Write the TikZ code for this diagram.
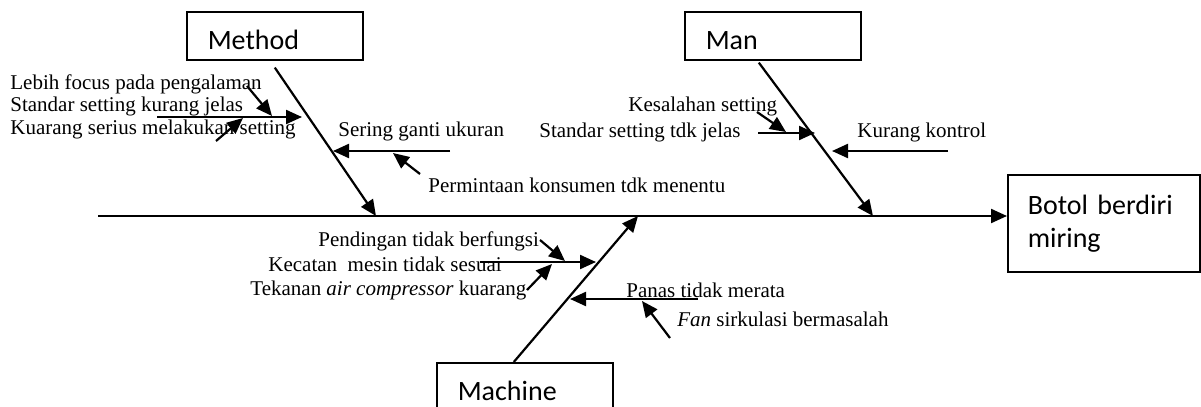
\documentclass[tikz,border=0pt]{standalone}
\usepackage{fontspec}
\setmainfont{Liberation Serif}
\newfontfamily\calfont{Carlito}
\usetikzlibrary{arrows.meta}
\tikzset{
  bone/.style={line width=1.1pt,-{Triangle[length=8pt,width=7pt]}},
  cause/.style={anchor=base west,inner sep=0pt,font=\fontsize{10.5}{12}\selectfont},
  catbox/.style={draw,line width=0.8pt,anchor=north west,inner xsep=10.5pt,inner ysep=0pt,
    text width=67pt,align=left,text height=19pt,text depth=5pt,
    font=\calfont\fontsize{14}{16.5}\selectfont}
}
\begin{document}
\begin{tikzpicture}[x=0.5pt,y=-0.5pt]
\clip (0,0) rectangle (1201,407);
\node [catbox] (method) at (186,11) {Method};
\node [catbox] (man) at (684,11) {Man};
\node [catbox] (machine) at (436,362) {Machine};
\node [catbox,text width=76pt,inner xsep=10pt,text height=20pt,text depth=28.5pt] (botol) at (1007,174) {Botol berdiri\\miring};

\coordinate (tail) at (98,216);
\draw [bone] (tail) -- (tail -| botol.west);

\coordinate (methodtip) at (376,216);
\coordinate (mantip) at (873,216);
\coordinate (machinetip) at (638,216);
\draw [bone] ([yshift=-3.5pt]method.south) -- (methodtip);
\draw [bone] ([xshift=-7pt,yshift=-1pt]man.south) -- (mantip);
\draw [bone] ([xshift=-5.5pt]machine.north) -- (machinetip);

% method
\node [cause] (lebih) at (10,90) {Lebih focus pada pengalaman};
\node [cause] (standar) at (10,112) {Standar setting kurang jelas};
\node [cause] (kuarang) at (10,134) {Kuarang serius melakukan setting};
\node [cause] (sering) at (338,136) {Sering ganti ukuran};
\node [cause] (permintaan) at (428,192) {Permintaan konsumen tdk menentu};
\coordinate (m1) at (157,117); \coordinate (m1t) at (302,117);
\coordinate (m2) at (247,86);  \coordinate (m2t) at (272,116);
\coordinate (m3) at (216,141); \coordinate (m3t) at (243,118);
\coordinate (m4) at (450,151); \coordinate (m4t) at (333,151);
\coordinate (m5) at (420,174); \coordinate (m5t) at (393,153);
\draw [bone] (m1) -- (m1t);
\draw [bone] (m2) -- (m2t);
\draw [bone] (m3) -- (m3t);
\draw [bone] (m4) -- (m4t);
\draw [bone] (m5) -- (m5t);

% man
\node [cause] (kesalahan) at (628,112) {Kesalahan setting};
\node [cause] (standartdk) at (539,137) {Standar setting tdk jelas};
\node [cause] (kontrol) at (857,137) {Kurang kontrol};
\coordinate (n1) at (758,133); \coordinate (n1t) at (815,133);
\coordinate (n2) at (757,112); \coordinate (n2t) at (786,132);
\coordinate (n3) at (948,151); \coordinate (n3t) at (832,151);
\draw [bone] (n1) -- (n1t);
\draw [bone] (n2) -- (n2t);
\draw [bone] (n3) -- (n3t);

% machine
\node [cause] (pendingan) at (318,246) {Pendingan tidak berfungsi};
\node [cause] (kecatan) at (268,271) {Kecatan \ mesin tidak sesuai};
\node [cause] (tekanan) at (250,295) {Tekanan \textit{air compressor} kuarang};
\node [cause] (panas) at (626,297) {Panas tidak merata};
\node [cause] (fan) at (677,326) {\textit{Fan} sirkulasi bermasalah};
\coordinate (c1) at (480,262); \coordinate (c1t) at (596,262);
\coordinate (c2) at (540,240); \coordinate (c2t) at (565,261);
\coordinate (c3) at (527,290); \coordinate (c3t) at (552,264);
\coordinate (c4) at (698,299); \coordinate (c4t) at (570,299);
\coordinate (c5) at (670,338); \coordinate (c5t) at (642,301);
\draw [bone] (c1) -- (c1t);
\draw [bone] (c2) -- (c2t);
\draw [bone] (c3) -- (c3t);
\draw [bone] (c4) -- (c4t);
\draw [bone] (c5) -- (c5t);
\end{tikzpicture}
\end{document}
